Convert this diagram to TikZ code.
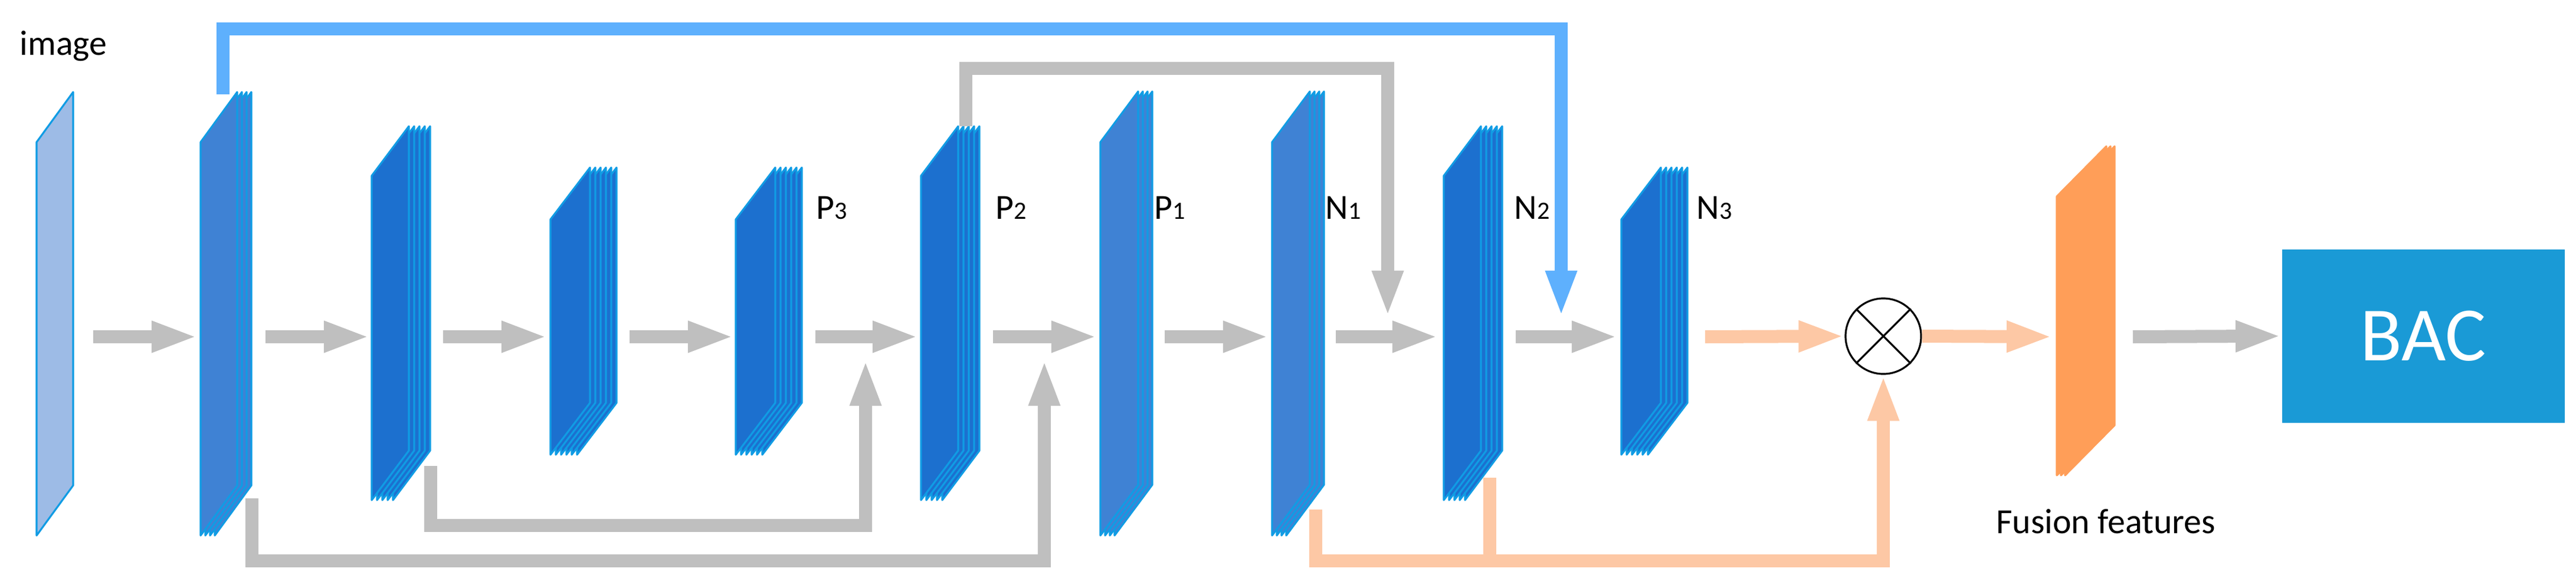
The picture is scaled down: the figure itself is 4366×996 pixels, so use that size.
\documentclass[tikz,border=0pt]{standalone}
\usepackage{fontspec}
\setmainfont{Carlito}
\usetikzlibrary{arrows.meta}
\definecolor{lblue}{HTML}{5EB0FD}
\definecolor{gr}{HTML}{BFBFBF}
\definecolor{lor}{HTML}{FDC8A5}
\definecolor{edge}{HTML}{109CE4}
\definecolor{fillA}{HTML}{3F82D4}
\definecolor{fillB}{HTML}{1C70CF}
\definecolor{imgf}{HTML}{9DBBE6}
\definecolor{orf}{HTML}{FF9E58}
\definecolor{bac}{HTML}{1A9AD6}
\newcommand\fstack[9]{%
  \foreach \i in {#6,...,1}{%
    \pgfmathsetmacro\xx{#1+(\i-1)*#7}
    \draw[draw=#9,fill=#8,line width=0.9pt,line join=round] (\xx,#2) -- (\xx,#3) -- (\xx+#4,#3-#5) -- (\xx+#4,#2-#5) -- cycle;}}
\begin{document}
\begin{tikzpicture}[x=0.01cm,y=-0.01cm,
  fat/.style={line width=0.22cm,line join=miter,-{Triangle[length=0.78cm,width=0.48cm]}},
  garr/.style={fat,draw=gr},
  barr/.style={fat,draw=lblue},
  oarr/.style={fat,draw=lor},
  lab/.style={anchor=west,font=\fontsize{17}{20}\selectfont,inner sep=0pt}]
\useasboundingbox (0,0) rectangle (4366,996);
% stacks
\fstack{62}{241}{908}{62}{85}{1}{0}{imgf}{edge}
\fstack{340}{241}{908}{62}{85}{4}{8}{fillA}{edge}
\fstack{630}{298}{848}{63}{84}{5}{9}{fillB}{edge}
\fstack{933}{372}{771}{67}{88}{6}{9}{fillB}{edge}
\fstack{1247}{372}{771}{67}{88}{6}{9}{fillB}{edge}
\fstack{1561}{298}{848}{63}{84}{5}{9}{fillB}{edge}
\fstack{1865}{241}{908}{64}{86}{4}{8}{fillA}{edge}
\fstack{2156}{241}{908}{64}{86}{4}{8}{fillA}{edge}
\fstack{2447}{298}{848}{63}{84}{5}{9}{fillB}{edge}
\fstack{2748}{372}{771}{67}{88}{6}{9}{fillB}{edge}
\fstack{3486}{333}{806}{84}{85}{3}{7}{orf}{orf}
% named points
\coordinate (img) at (158,571);
\coordinate (s1i) at (335,571); \coordinate (s1o) at (450,571);
\coordinate (s2i) at (627,571); \coordinate (s2o) at (751,571);
\coordinate (s3i) at (928,571); \coordinate (s3o) at (1067,571);
\coordinate (p3i) at (1244,571); \coordinate (p3o) at (1382,571);
\coordinate (p2i) at (1557,571); \coordinate (p2o) at (1683,571);
\coordinate (p1i) at (1860,571); \coordinate (p1o) at (1974,571);
\coordinate (n1i) at (2151,571); \coordinate (n1o) at (2264,571);
\coordinate (n2i) at (2438,571); \coordinate (n2o) at (2569,571);
\coordinate (n3i) at (2742,571); \coordinate (n3o) at (2890,571);
\coordinate (fi) at (3479,571); \coordinate (fo) at (3615,571);
\coordinate (s1t) at (378,160); \coordinate (s1b) at (427,845);
\coordinate (s2b) at (730,790);
\coordinate (p2t) at (1637,214);
\coordinate (n1b) at (2230,864); \coordinate (n2b) at (2525,810);
\coordinate (m1) at (1467,610); \coordinate (m2) at (1770,610);
\coordinate (m3) at (2352,537); \coordinate (m4) at (2646,537);
\node[circle,draw,line width=0.9pt,minimum size=1.28cm,inner sep=0pt] (ot) at (3192,570) {};
\draw[line width=0.9pt] (ot.north west) -- (ot.south east) (ot.north east) -- (ot.south west);
\node[fill=bac,minimum width=4.79cm,minimum height=2.94cm,inner sep=0pt,anchor=north west,text=white,font=\fontsize{37}{40}\selectfont] (bac) at (3867,422) {BAC};
% main arrows
\draw[garr] (img) -- (s1i);
\draw[garr] (s1o) -- (s2i);
\draw[garr] (s2o) -- (s3i);
\draw[garr] (s3o) -- (p3i);
\draw[garr] (p3o) -- (p2i);
\draw[garr] (p2o) -- (p1i);
\draw[garr] (p1o) -- (n1i);
\draw[garr] (n1o) -- (n2i);
\draw[garr] (n2o) -- (n3i);
\draw[oarr] (n3o) -- (ot.west);
\draw[oarr] (ot.east) -- (fi);
\draw[garr] (fo) -- (bac.west);
% skips
\draw[barr] (s1t) |- (1300,49) -| (m4);
\draw[garr] (p2t) |- (2000,116) -| (m3);
\draw[garr] (s2b) |- (1000,891) -| (m1);
\draw[garr] (s1b) |- (1000,951) -| (m2);
\draw[line width=0.22cm,draw=lor] (n2b) -- (2525,951);
\draw[oarr] (n1b) |- (2800,951) -| (ot.south);
% labels
\node[lab] (t0) at (33,78) {image};
\node[lab] at (1383,352) {P{\fontsize{12}{14}\selectfont 3}};
\node[lab] at (1687,352) {P{\fontsize{12}{14}\selectfont 2}};
\node[lab] at (1956,352) {P{\fontsize{12}{14}\selectfont 1}};
\node[lab] at (2246,352) {N{\fontsize{12}{14}\selectfont 1}};
\node[lab] at (2566,352) {N{\fontsize{12}{14}\selectfont 2}};
\node[lab] at (2875,352) {N{\fontsize{12}{14}\selectfont 3}};
\node[lab,anchor=center] at (3569,884) {Fusion features};
\end{tikzpicture}
\end{document}
